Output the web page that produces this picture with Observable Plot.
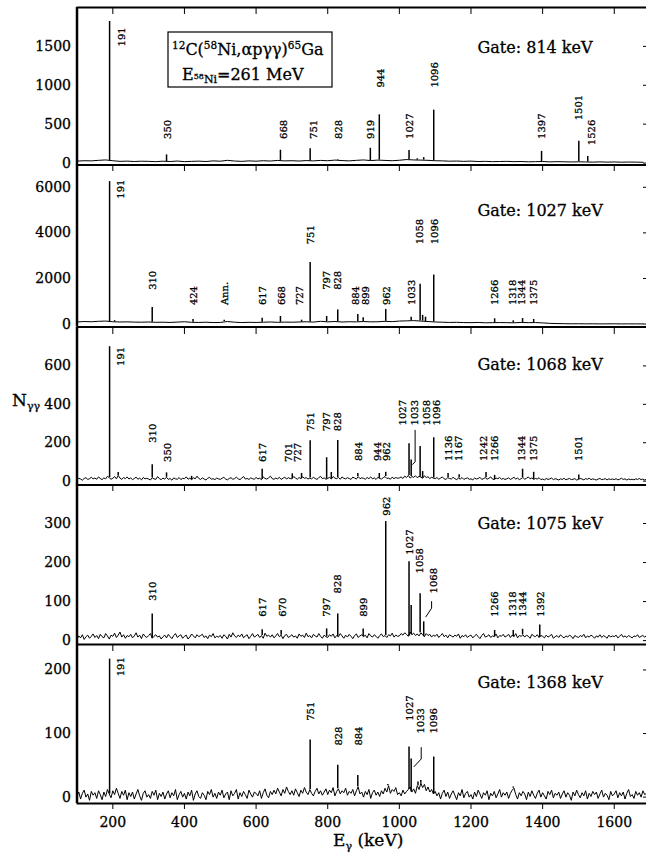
<!DOCTYPE html>
<html><head><meta charset="utf-8">
<script src="https://cdn.jsdelivr.net/npm/d3@7"></script>
<script src="https://cdn.jsdelivr.net/npm/@observablehq/plot@0.6"></script>
<style>
body{margin:0;background:#fff;}
#chart{position:relative;width:646px;height:854px;overflow:hidden;font-family:"DejaVu Serif",serif;background:#fff;}
#chart text{stroke:#000;stroke-width:0.3px;}
</style></head><body><div id="chart"></div>
<script>
// ---------- data ----------
const energyDomain = [100, 1690];
const xTicks = [200, 400, 600, 800, 1000, 1200, 1400, 1600];
const gates = ["814", "1027", "1068", "1075", "1368"];
const baseStart = 100;

// Panel 1 (gate 814 keV) — baseline every 20 keV
const base1 = [25,30,28,35,40,30,22,25,20,24, 22,18,24,20,26,18,22,25,20,28,
  24,35,26,22,28,24,30,26,34,28, 30,26,32,28,34,30,38,32,28,35,
  40,32,38,34,30,36,45,40,38,35, 30,28,24,26,22,25,20,22,18,20,
  22,18,20,16,18,20,15,18,16,14, 16,14,12,15,12,14,11,13,12,10];
const peakE1 = [191,350,668,751,828,919,944,1027,1050,1068,1096,1397,1501,1526];
const peakN1 = [1820,105,165,185,45,190,620,160,55,70,680,150,280,85];
const labelT1 = ["191","350","668","751","828","919","944","1027","1096","1397","1501","1526"];
const labelE1 = [225,353,676,760,832,920,948,1030,1099,1399,1501,1536];
const labelN1 = [1500,310,310,310,310,310,970,310,970,310,550,230];
const yTicks1 = [0,500,1000,1500];

// Panel 2 (gate 1027 keV) — baseline every 20 keV
const base2 = [90,110,100,120,130,100,90,95,85,80, 90,75,80,70,85,100,75,70,80,65,
  70,110,80,65,75,70,80,90,75,85, 80,90,100,85,120,95,110,90,100,95,
  110,95,100,120,105,130,140,150,130,110, 90,80,70,75,65,60,70,55,60,65,
  60,55,70,60,65,50,30,20,15,10, 12,8,10,6,8,10,5,8,6,5];
const peakE2 = [191,205,310,424,511,617,668,727,751,797,828,884,899,962,1033,1058,1065,1073,1096,1266,1318,1344,1375];
const peakN2 = [6250,150,730,200,170,250,330,170,2700,330,620,420,280,640,300,1750,380,300,2150,230,140,240,200];
const labelT2 = ["191","310","424","Ann.","617","668","727","751","797","828","884","899","962","1033","1058","1096","1266","1318","1344","1375"];
const labelE2 = [221,311,425,513,620,671,723,753,797,829,877,905,965,1034,1058,1099,1266,1318,1343,1374];
const labelN2 = [5500,1500,830,830,830,830,830,3500,1500,1500,830,830,830,830,3500,3500,830,830,830,830];
const yTicks2 = [0,2000,4000,6000];

// Panel 3 (gate 1068 keV) — baseline every 5 keV
const base3 = [
  8,15,11,5,14,18,9,13,20,12, 16,10,22,14,8,17,12,25,18,10,
  15,24,12,30,16,9,19,13,22,11, 17,8,14,21,10,16,7,19,12,15,
  11,6,18,12,9,24,13,8,16,11, 20,9,14,5,17,12,10,19,8,15,
  13,22,10,16,7,18,12,26,14,9, 17,11,6,15,20,10,13,8,16,12,
  9,15,20,11,7,14,18,10,13,21, 12,8,16,24,11,14,9,17,13,10,
  19,12,15,8,22,14,11,17,26,13, 10,16,12,20,9,15,21,11,18,14,
  12,24,16,10,19,13,22,15,18,11, 16,12,20,14,9,18,25,13,17,10,
  14,20,11,24,16,13,19,10,22,15, 12,18,14,9,21,16,11,24,13,17,
  15,10,19,13,22,12,17,9,20,14, 11,18,24,14,16,10,21,13,19,15,
  17,22,14,26,19,30,16,24,20,28, 18,25,21,15,28,19,23,14,20,16,
  13,19,10,16,22,12,9,18,14,11, 20,13,8,16,11,19,9,14,17,10,
  12,7,16,11,14,20,9,13,18,10, 15,22,11,8,16,13,19,10,14,9,
  12,17,9,14,20,11,16,8,13,19, 10,15,22,12,17,9,14,11,18,8,
  11,7,14,9,12,16,8,13,10,6, 12,9,15,7,11,14,8,10,13,6,
  9,14,11,7,13,10,15,8,12,9, 6,11,14,8,10,13,7,12,9,11,
  8,13,7,10,15,9,12,6,11,8, 10,7,12,9,14,8,11,6,10];
const peakE3 = [191,215,310,350,420,617,701,727,751,797,810,828,884,944,962,1027,1033,1058,1065,1096,1136,1167,1242,1266,1344,1375,1501];
const peakN3 = [700,45,85,43,25,62,38,40,210,122,45,212,40,40,46,195,110,180,50,226,40,34,45,30,62,46,32];
const labelT3 = ["191","310","350","617","701","727","751","797","828","884","944","962","1027","1033","1058","1096","1136","1167","1242","1266","1344","1375","1501"];
const labelE3 = [221,311,353,620,690,716,753,797,829,887,940,966,1009,1044,1076,1104,1137,1166,1236,1266,1343,1374,1501];
const labelN3 = [600,200,100,100,100,100,260,260,260,105,105,105,290,290,290,290,105,105,105,105,105,105,105];
const leaderE3 = [1044,1044,1037];
const leaderN3 = [265,100,88];
const yTicks3 = [0,200,400,600];

// Panel 4 (gate 1075 keV) — baseline every 5 keV
const base4 = [
  4,12,7,15,3,10,14,6,11,17, 8,13,5,16,10,7,18,12,4,14,
  11,19,8,14,22,9,15,6,13,10, 16,7,12,20,9,14,5,17,11,8,
  13,18,6,11,15,9,12,4,10,14, 7,16,10,5,13,18,8,12,15,6,
  11,14,4,9,17,12,7,15,10,13, 16,8,12,5,14,10,18,7,11,9,
  13,6,15,11,4,16,9,20,12,8, 14,10,17,7,12,15,5,11,18,9,
  12,16,8,13,6,19,11,14,9,15, 7,12,18,10,14,5,13,16,8,11,
  15,9,12,6,17,11,14,8,19,10, 13,7,16,12,9,18,11,6,14,10,
  8,15,11,17,7,13,10,18,12,6, 14,9,16,11,5,13,17,8,12,15,
  10,14,7,18,12,9,15,11,6,13, 17,10,13,8,15,12,19,9,14,11,
  12,18,14,20,16,11,22,15,19,13, 17,12,20,15,10,18,13,16,9,14,
  11,16,8,13,18,10,14,7,15,12, 9,14,11,17,6,13,10,15,8,12,
  14,7,12,16,10,5,13,18,9,11, 15,8,12,10,17,7,13,11,16,9,
  12,16,8,14,10,18,7,13,11,15, 9,14,11,6,16,12,10,15,8,13,
  11,7,14,9,12,16,6,10,13,8, 15,10,7,12,9,14,11,5,13,10,
  8,13,10,16,7,12,9,14,11,6, 12,9,15,8,13,10,6,14,9,12,
  10,14,7,11,16,9,12,8,13,10, 7,12,10,15,8,11,13,9,12];
const peakE4 = [310,617,670,797,828,899,962,1027,1033,1058,1068,1266,1318,1344,1392];
const peakN4 = [68,28,26,30,68,30,305,202,90,120,48,26,26,29,40];
const labelT4 = ["310","617","670","797","828","899","962","1027","1058","1068","1266","1318","1344","1392"];
const labelE4 = [311,620,674,798,829,900,965,1030,1058,1097,1266,1318,1346,1394];
const labelN4 = [102,61,61,61,121,61,320,220,172,121,61,61,61,61];
const leaderE4 = [1090,1090,1074];
const leaderN4 = [100,83,61];
const yTicks4 = [0,100,200,300];

// Panel 5 (gate 1368 keV) — baseline every 5 keV
const base5 = [
  2,8,-3,6,11,0,5,-5,9,3, 7,-2,10,4,-4,8,1,12,5,-1,
  10,4,14,6,-2,9,3,11,-4,7, 1,8,-3,5,12,2,-5,6,10,0,
  4,-2,9,3,11,-4,6,1,8,-3, 5,10,-1,7,2,12,-4,4,9,0,
  6,-3,8,2,11,-5,5,10,1,-2, 7,3,-4,9,4,12,0,6,-2,8,
  3,11,-1,5,8,-4,10,2,6,12, -3,7,1,9,4,-2,11,5,0,8,
  6,2,10,-2,7,13,3,-1,9,4, 11,5,14,8,2,12,6,16,9,4,
  10,3,13,7,1,11,6,15,8,4, 12,6,2,9,14,5,10,3,8,13,
  4,11,7,15,2,9,13,5,10,7, 14,3,9,6,12,2,10,16,5,8,
  0,9,4,12,-2,7,11,3,8,1, 10,5,14,8,18,6,12,9,15,4,
  7,2,11,5,9,12,16,8,13,6, 18,12,22,15,20,10,16,8,12,5,
  9,2,7,-3,6,11,1,8,-2,5, 10,3,-4,7,2,12,-1,6,9,0,
  4,-3,8,1,11,5,-2,7,3,10, -4,6,2,9,-1,5,12,0,7,3,
  8,-2,6,11,14,4,-3,7,2,9, 5,-4,8,1,10,3,-2,6,11,0,
  7,2,-3,9,4,11,-1,6,3,8, -2,5,10,0,7,3,-5,8,2,11,
  4,-1,7,2,10,-3,6,1,9,4, 8,-2,5,11,0,6,3,-4,9,2,
  5,10,-1,7,2,8,-3,6,12,1, 4,-2,9,3,7,0,10,4,6];
const peakE5 = [191,751,828,884,968,1027,1033,1052,1060,1096,1318];
const peakN5 = [217,90,50,34,20,79,60,24,26,63,16];
const labelT5 = ["191","751","828","884","1027","1033","1096"];
const labelE5 = [221,753,832,887,1030,1061,1097];
const labelN5 = [190,120,81,81,120,100,100];
const leaderE5 = [1061,1061,1041];
const leaderN5 = [78,60,48];
const yTicks5 = [0,100,200];

// ---------- layout ----------
const W = 646, ML = 76.5;
const panels = [
  {gate: gates[0], top: 6.5, bottom: 164, yDomain: [-25, 2000], yTicks: yTicks1, base: base1, step: 20,
   peakE: peakE1, peakN: peakN1, labelT: labelT1, labelE: labelE1, labelN: labelN1, gateDy: 40, topLine: true},
  {gate: gates[1], top: 164, bottom: 326.5, yDomain: [-130, 7000], yTicks: yTicks2, base: base2, step: 20,
   peakE: peakE2, peakN: peakN2, labelT: labelT2, labelE: labelE2, labelN: labelN2, gateDy: 46},
  {gate: gates[2], top: 326.5, bottom: 484, yDomain: [-20, 800], yTicks: yTicks3, base: base3, step: 5,
   peakE: peakE3, peakN: peakN3, labelT: labelT3, labelE: labelE3, labelN: labelN3, leaderE: leaderE3, leaderN: leaderN3, gateDy: 37},
  {gate: gates[3], top: 484, bottom: 644, yDomain: [-10, 400], yTicks: yTicks4, base: base4, step: 5,
   peakE: peakE4, peakN: peakN4, labelT: labelT4, labelE: labelE4, labelN: labelN4, leaderE: leaderE4, leaderN: leaderN4, gateDy: 39},
  {gate: gates[4], top: 644, bottom: 803, yDomain: [-10, 240], yTicks: yTicks5, base: base5, step: 5,
   peakE: peakE5, peakN: peakN5, labelT: labelT5, labelE: labelE5, labelN: labelN5, leaderE: leaderE5, leaderN: leaderN5, gateDy: 38, last: true}
];

const chart = document.getElementById("chart");

panels.forEach(p => {
  const base = p.base.map((n, i) => ({E: baseStart + i * p.step, N: n}));
  const baseAt = E => p.base[Math.min(p.base.length - 1, Math.max(0, Math.round((E - baseStart) / p.step)))];
  const peaks = p.peakE.map((E, i) => ({E, N: p.peakN[i], B: baseAt(E)}));
  const labels = p.labelT.map((t, i) => ({t, E: p.labelE[i], N: p.labelN[i]}));
  const leader = (p.leaderE || []).map((E, i) => ({E, N: p.leaderN[i]}));
  const mt = 10, mb = p.last ? 854 - p.bottom : 10;
  const marks = [
    Plot.line(base, {x: "E", y: "N", stroke: "black", strokeWidth: 1}),
    Plot.ruleX(peaks, {x: "E", y1: "B", y2: "N", stroke: "black", strokeWidth: 1.5}),
    Plot.text(labels, {x: "E", y: "N", text: "t", rotate: -90, textAnchor: "start", lineAnchor: "middle", fontSize: 10}),
    Plot.line(leader, {x: "E", y: "N", stroke: "black", strokeWidth: 1}),
    Plot.text([p.gate], {frameAnchor: "top-left", dx: 477 - ML, dy: p.gateDy, text: d => `Gate: ${d} keV`,
      textAnchor: "start", lineAnchor: "middle", fontSize: 16}),
    Plot.ruleX([energyDomain[0]], {stroke: "black", strokeWidth: 2.5}),
    Plot.ruleY([p.yDomain[0]], {stroke: "black", strokeWidth: 2}),
    Plot.axisY({anchor: "left", ticks: p.yTicks, tickSize: 0, tickPadding: 6, tickFormat: "d", fontSize: 14, label: null}),
    Plot.axisY({anchor: "right", ticks: p.yTicks, tickSize: 4, dx: -4, tickFormat: () => "", label: null}),
    Plot.axisX({anchor: "top", ticks: xTicks, tickSize: 6, dy: 6, tickFormat: () => "", label: null})
  ];
  if (p.topLine) marks.push(Plot.ruleY([p.yDomain[1]], {stroke: "black", strokeWidth: 2}));
  if (p.last) marks.push(Plot.axisX({anchor: "bottom", ticks: xTicks, tickSize: 6, tickPadding: 8, tickFormat: "d", fontSize: 14, label: null}));
  const svg = Plot.plot({
    width: W,
    height: (p.bottom - p.top) + mt + mb,
    marginLeft: ML, marginRight: 0, marginTop: mt, marginBottom: mb,
    x: {domain: energyDomain},
    y: {domain: p.yDomain},
    style: {background: "transparent", overflow: "visible", fontFamily: "DejaVu Serif", fontSize: "14px", color: "black"},
    marks
  });
  svg.style.position = "absolute";
  svg.style.left = "0px";
  svg.style.top = (p.top - mt) + "px";
  chart.appendChild(svg);
});

// ---------- overlay annotations (box, axis titles) ----------
const ov = d3.select(chart).append("svg")
  .attr("width", W).attr("height", 854)
  .style("position", "absolute").style("left", "0px").style("top", "0px")
  .style("font-family", "DejaVu Serif").style("pointer-events", "none");

ov.append("rect").attr("x", 168).attr("y", 32).attr("width", 164).attr("height", 55)
  .attr("fill", "white").attr("stroke", "black").attr("stroke-width", 1.2);

const t1 = ov.append("text").attr("x", 172).attr("y", 55).attr("font-size", 16);
t1.append("tspan").attr("font-size", 10.5).attr("dy", -6).text("12");
t1.append("tspan").attr("dy", 6).text("C(");
t1.append("tspan").attr("font-size", 10.5).attr("dy", -6).text("58");
t1.append("tspan").attr("dy", 6).text("Ni,αpγγ)");
t1.append("tspan").attr("font-size", 10.5).attr("dy", -6).text("65");
t1.append("tspan").attr("dy", 6).text("Ga");

const t2 = ov.append("text").attr("x", 182).attr("y", 80).attr("font-size", 16);
t2.append("tspan").text("E");
t2.append("tspan").attr("font-size", 8).attr("dy", -1).text("58");
t2.append("tspan").attr("font-size", 11).attr("dy", 4).text("Ni");
t2.append("tspan").attr("dy", -3).text("=261 MeV");

const ny = ov.append("text").attr("x", 12).attr("y", 406).attr("font-size", 17);
ny.append("tspan").text("N");
ny.append("tspan").attr("font-size", 11).attr("dy", 4).text("γγ");

const ex = ov.append("text").attr("x", 333).attr("y", 846).attr("font-size", 17);
ex.append("tspan").text("E");
ex.append("tspan").attr("font-size", 11).attr("dy", 4).text("γ");
ex.append("tspan").attr("dy", -4).text(" (keV)");
</script>
</body></html>
